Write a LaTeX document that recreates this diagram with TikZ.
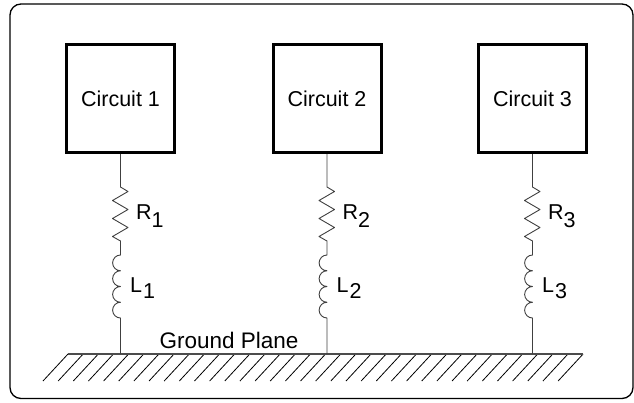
\documentclass[tikz,border=0pt]{standalone}
\usepackage{fontspec}
\setmainfont{Liberation Sans}

\begin{document}
\begin{tikzpicture}[x=1pt,y=1pt]
\tikzstyle{every node}+=[inner sep=0pt]
\tikzstyle{circuitbox}=[draw=black,line width=3pt,minimum width=108pt,minimum height=108pt,font=\fontsize{21.5}{26}\selectfont]
\tikzstyle{wire}=[draw=black!75,line width=0.9pt,line join=round]
\tikzstyle{partlabel}=[anchor=base west,font=\fontsize{21.5}{26}\selectfont]
\useasboundingbox (0,0) rectangle (634,-402);
\draw [black,line width=1.3pt,rounded corners=11pt] (10,-4) rectangle (633,-398.5);
% circuits
\node [circuitbox] (c1) at (120.5,-98.5) {Circuit 1};
\node [circuitbox] (c2) at (327,-98.5) {Circuit 2};
\node [circuitbox] (c3) at (532.5,-98.5) {Circuit 3};
% ground plane
\coordinate (gl) at (68,-354);
\coordinate (gr) at (583,-354);
\foreach \k in {0,...,34}
  \draw [black,line width=0.8pt] ([xshift=\k*15.15pt]gl) -- ++(-25,-27);
\draw [black!70,line width=1.8pt] (gl) -- (gr);
\node [anchor=base,font=\fontsize{22.5}{27}\selectfont] (gp) at (229,-348) {Ground Plane};
% R and L down to ground
\foreach \c/\n in {c1/1,c2/2,c3/3} {
  \coordinate (g\n) at (\c.south |- gl);
  \draw [wire] (\c.south) -- ++(0,-33)
    -- ++(7.5,-4.5) -- ++(-15.5,-9) -- ++(15.5,-9) -- ++(-15.5,-9)
    -- ++(15.5,-9) -- ++(-15.5,-9) -- ++(8,-4.5)
    -- ++(0,-14)
    arc (90:270:7.875pt) arc (90:270:7.875pt)
    arc (90:270:7.875pt) arc (90:270:7.875pt)
    -- (g\n);
  \path (\c.south) ++(15.5,-65) node [partlabel] (r\n) {R\raisebox{-8pt}{\n}};
  \path (\c.south) ++(9.5,-138) node [partlabel] (l\n) {L\kern1pt\raisebox{-6pt}{\n}};
}
\end{tikzpicture}
\end{document}
